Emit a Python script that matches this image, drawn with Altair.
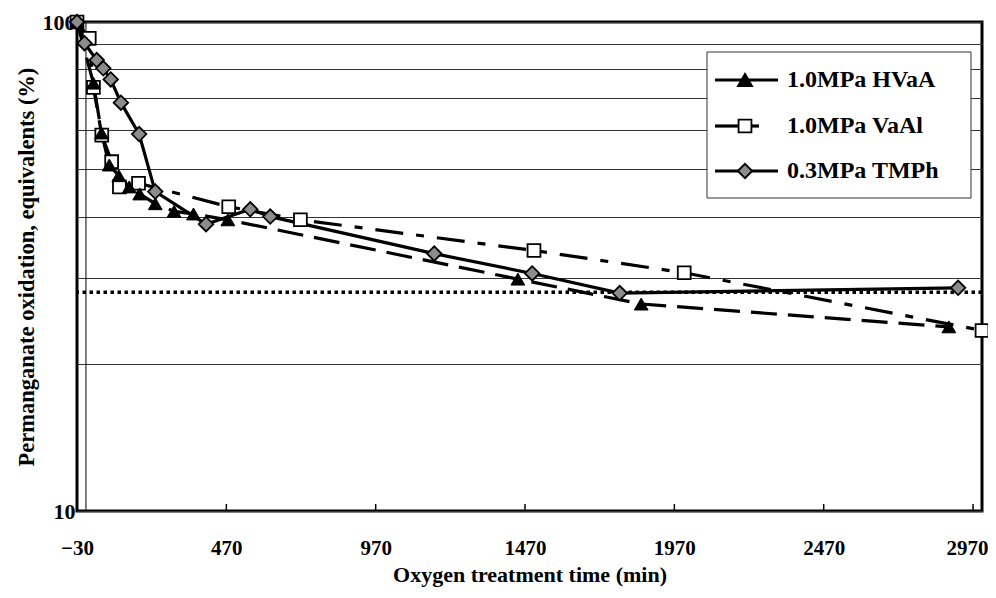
import altair as alt
import pandas as pd

# ---- data ----
hvaa_t = [-30, 25, 52, 78, 110, 145, 180, 232, 295, 360, 475, 1446, 1859, 2889]
hvaa_v = [100, 75, 59.3, 51.0, 48.5, 46.0, 44.5, 42.5, 41.0, 40.5, 39.4, 29.8, 26.5, 23.8]

vaal_t = [-30, 11, 25, 53, 86, 112, 176, 478, 718, 1500, 2003, 3000]
vaal_v = [100, 92.6, 73.5, 58.7, 51.8, 46.0, 46.8, 41.9, 39.4, 34.1, 30.7, 23.4]

tmph_t = [-30, -5, 36, 58, 83, 117, 178, 232, 402, 550, 617, 1166, 1494, 1787, 2920]
tmph_v = [100, 90.5, 83.6, 80.4, 76.3, 68.4, 59.0, 45.0, 38.6, 41.4, 40.0, 33.6, 30.6, 27.9, 28.6]

series_names = ["1.0MPa HVaA", "1.0MPa VaAl", "0.3MPa TMPh"]
x_ticks = [-30, 470, 970, 1470, 1970, 2470, 2970]
y_ticks = [10, 20, 30, 40, 50, 60, 70, 80, 90, 100]
reference_level = [28]
zero_line = [0]

FONT = "Liberation Serif"
W, H = 905, 489

df_h = pd.DataFrame({"t": hvaa_t, "v": hvaa_v})
df_a = pd.DataFrame({"t": vaal_t, "v": vaal_v})
df_p = pd.DataFrame({"t": tmph_t, "v": tmph_v})

X = alt.X(
    "t:Q",
    scale=alt.Scale(domain=[-30, 3000], nice=False, zero=False),
    axis=alt.Axis(
        values=x_ticks, format="d", grid=False, domain=False, ticks=False,
        labelPadding=26, labelFont=FONT, labelFontSize=21, labelFontWeight="bold",
        labelColor="black", labelFlush=False, labelOverlap=False,
        labelOffset={"condition": {"test": "datum.value == 2970", "value": -6}, "value": 0},
        title="Oxygen treatment time (min)", titleFont=FONT, titleFontSize=22,
        titleFontWeight="bold", titleColor="black", titlePadding=6,
    ),
)
Y = alt.Y(
    "v:Q",
    scale=alt.Scale(type="log", domain=[10, 100], nice=False),
    axis=alt.Axis(
        values=y_ticks, format="d", grid=True, gridColor="#333333", gridWidth=1,
        domain=False, ticks=False, labelPadding=2,
        labelExpr="(datum.value == 10 || datum.value == 100) ? datum.label : ''",
        labelFont=FONT, labelFontSize=22, labelFontWeight="bold", labelColor="black",
        labelFlush=False, labelOverlap=False,
        title="Permanganate oxidation, equivalents (%)", titleFont=FONT,
        titleFontSize=22.5, titleFontWeight="bold", titleColor="black", titlePadding=4,
    ),
)

dash_h = [26, 11]
dash_a = [28, 13, 8, 13]

line_h = alt.Chart(df_h).mark_line(color="black", strokeWidth=3.2, strokeDash=dash_h).encode(x=X, y=Y)
line_a = alt.Chart(df_a).mark_line(color="black", strokeWidth=3.2, strokeDash=dash_a).encode(x=X, y=Y)
line_p = alt.Chart(df_p).mark_line(color="black", strokeWidth=3.2).encode(x=X, y=Y)

pt_a = alt.Chart(df_a).mark_point(shape="square", size=165, filled=True, fill="white",
                                  stroke="black", strokeWidth=1.8, opacity=1).encode(x=X, y=Y)
pt_h = alt.Chart(df_h).mark_point(shape="triangle-up", size=190, filled=True, fill="black",
                                  stroke="black", strokeWidth=1, opacity=1).encode(x=X, y=Y)
pt_p = alt.Chart(df_p).mark_point(shape="diamond", size=210, filled=True, fill="#8c8c8c",
                                  stroke="black", strokeWidth=1.8, opacity=1).encode(x=X, y=Y)

dotted = alt.Chart(pd.DataFrame({"v": reference_level})).mark_rule(
    color="black", strokeWidth=3.5, strokeDash=[3.5, 3.5]).encode(y=Y)

zero_rule = alt.Chart(pd.DataFrame({"t": zero_line})).mark_rule(
    color="black", strokeWidth=1).encode(x=X, y=alt.value(0), y2=alt.value(H))

tick_rules = alt.Chart(pd.DataFrame({"t": x_ticks})).mark_rule(
    color="black", strokeWidth=1.5).encode(x=X, y=alt.value(H - 7), y2=alt.value(H))

# ---- manual legend (inside plot, upper right) ----
one = alt.Data(values=[{}])
box = alt.Chart(one).mark_rect(fill="white", stroke="#333333", strokeWidth=1).encode(
    x=alt.value(630), x2=alt.value(894), y=alt.value(30), y2=alt.value(176))

legend_layers = [box]
rows_y = [58, 104, 149]
for name, yy, kind in zip(series_names, rows_y, ["h", "a", "p"]):
    if kind == "a":
        legend_layers.append(alt.Chart(one).mark_rule(color="black", strokeWidth=3.2).encode(
            x=alt.value(638), x2=alt.value(662), y=alt.value(yy)))
        legend_layers.append(alt.Chart(one).mark_rule(color="black", strokeWidth=3.2).encode(
            x=alt.value(674), x2=alt.value(682), y=alt.value(yy)))
    else:
        legend_layers.append(alt.Chart(one).mark_rule(color="black", strokeWidth=3.2).encode(
            x=alt.value(638), x2=alt.value(701), y=alt.value(yy)))
    if kind == "h":
        mk = alt.Chart(one).mark_point(shape="triangle-up", size=190, filled=True, fill="black",
                                       stroke="black", opacity=1)
    elif kind == "a":
        mk = alt.Chart(one).mark_point(shape="square", size=165, filled=True, fill="white",
                                       stroke="black", strokeWidth=1.8, opacity=1)
    else:
        mk = alt.Chart(one).mark_point(shape="diamond", size=210, filled=True, fill="#8c8c8c",
                                       stroke="black", strokeWidth=1.8, opacity=1)
    legend_layers.append(mk.encode(x=alt.value(668), y=alt.value(yy)))
    legend_layers.append(alt.Chart(one).mark_text(
        align="left", baseline="middle", font=FONT, fontSize=24, fontWeight="bold",
        color="black").encode(x=alt.value(710), y=alt.value(yy), text=alt.value(name)))

chart = alt.layer(
    zero_rule, tick_rules, dotted, line_h, line_a, line_p, pt_a, pt_h, pt_p, *legend_layers
).properties(
    width=W, height=H,
    padding={"left": 69, "top": 14, "right": 6, "bottom": 76},
    autosize=alt.AutoSizeParams(type="none"),
    background="white",
).configure_view(stroke="black", strokeWidth=3)

chart.save("out.html", embed_options={"renderer": "svg", "actions": False})
